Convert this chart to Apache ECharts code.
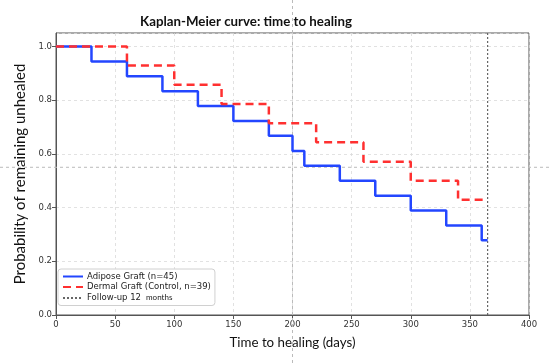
<!DOCTYPE html>
<html>
<head>
<meta charset="utf-8">
<script src="https://cdn.jsdelivr.net/npm/echarts@6/dist/echarts.min.js"></script>
<style>html,body{margin:0;padding:0;background:#fff;}#c{width:550px;height:364px;}</style>
</head>
<body>
<div id="c"></div>
<script>
// Adipose graft: event times (days) and survival after each time
var adiposeTimes = [0, 30, 60, 90, 120, 150, 180, 200, 210, 240, 270, 300, 330, 360, 365];
var adiposeSurv  = [1.0, 0.944, 0.889, 0.833, 0.778, 0.722, 0.667, 0.611, 0.556, 0.5, 0.444, 0.389, 0.333, 0.278, 0.278];
// Dermal graft (control)
var dermalTimes = [0, 60, 100, 140, 180, 220, 260, 300, 340, 365];
var dermalSurv  = [1.0, 0.929, 0.857, 0.786, 0.714, 0.643, 0.571, 0.5, 0.429, 0.429];
// Follow-up line
var followUpDays = 365;
var xTicks = [0, 50, 100, 150, 200, 250, 300, 350, 400];
var yTicks = [0.0, 0.2, 0.4, 0.6, 0.8, 1.0];
var names = ['Adipose Graft (n=45)', 'Dermal Graft (Control, n=39)', 'Follow-up 12 months'];
var guideX = 200, guideY = 0.55;

function zip(a, b) { return a.map(function (v, i) { return [v, b[i]]; }); }

var chart = echarts.init(document.getElementById('c'), null, {renderer: 'canvas'});
var tickFont = {fontFamily: 'DejaVu Sans', fontSize: 8.5, color: '#333'};
chart.setOption({
  animation: false,
  backgroundColor: '#fff',
  title: {
    text: 'Kaplan-Meier curve: time to healing',
    left: 241, top: 10, textAlign: 'center',
    textStyle: {fontFamily: 'Lato', fontWeight: 'bold', fontSize: 13.3, color: '#111'}
  },
  grid: {left: 56, right: 21, top: 33, bottom: 49, show: true, borderColor: '#555', borderWidth: 1},
  xAxis: {
    type: 'value', min: 0, max: 400, interval: 50,
    name: 'Time to healing (days)', nameLocation: 'middle', nameGap: 21,
    nameTextStyle: {fontFamily: 'Lato', fontSize: 13.3, color: '#111'},
    axisLine: {show: true, lineStyle: {color: '#555'}},
    axisTick: {show: true, length: 4, lineStyle: {color: '#555'}},
    axisLabel: Object.assign({margin: 5, formatter: function (v) { return xTicks.indexOf(v) >= 0 ? String(v) : ''; }}, tickFont),
    splitLine: {show: true, lineStyle: {color: '#dadada', type: [3, 3], width: 0.8}}
  },
  yAxis: {
    type: 'value', min: 0, max: 1.05, interval: 0.2,
    name: 'Probability of remaining unhealed', nameLocation: 'middle', nameGap: 27, nameRotate: 90,
    nameTextStyle: {fontFamily: 'Lato', fontSize: 15, color: '#111'},
    axisLine: {show: true, lineStyle: {color: '#555'}},
    axisTick: {show: true, length: 4, lineStyle: {color: '#555'}},
    axisLabel: Object.assign({margin: 4, showMaxLabel: false, formatter: function (v) { return v.toFixed(1); }}, tickFont),
    splitLine: {show: true, lineStyle: {color: '#dadada', type: [3, 3], width: 0.8}}
  },
  legend: {
    orient: 'vertical', left: 58, top: 269,
    data: names,
    backgroundColor: '#fff', borderColor: '#d0d0d0', borderWidth: 1, borderRadius: 3,
    padding: [3, 4, 3, 4], itemGap: 1.5, itemWidth: 20, itemHeight: 10,
    itemStyle: {opacity: 0},
    textStyle: {fontFamily: 'DejaVu Sans', fontSize: 8.5, color: '#222', padding: [0, 0, 0, -1],
      rich: {m: {fontFamily: 'Lato', fontSize: 8, color: '#222', padding: [0, 0, 2, 5]}}},
    formatter: function (n) { return n === names[2] ? 'Follow-up 12{m|months}' : n; }
  },
  series: [
    {name: names[0], type: 'line', step: 'end', symbol: 'none', data: zip(adiposeTimes, adiposeSurv),
      lineStyle: {color: '#2346ff', width: 2.5}, itemStyle: {color: '#2346ff'}, z: 3},
    {name: names[1], type: 'line', step: 'end', symbol: 'none', data: zip(dermalTimes, dermalSurv),
      lineStyle: {color: '#ff3030', width: 2.5, type: [8, 5]}, itemStyle: {color: '#ff3030'}, z: 4},
    {name: names[2], type: 'line', symbol: 'none', data: [[followUpDays, 0], [followUpDays, 1.05]],
      lineStyle: {color: '#666', width: 1.2, type: [2, 2]}, itemStyle: {color: '#999'}, z: 2}
  ]
});
var px = chart.convertToPixel({gridIndex: 0}, [guideX, guideY]);
chart.setOption({
  graphic: [
    {type: 'line', shape: {x1: px[0], y1: 0, x2: px[0], y2: 364}, style: {stroke: '#bbb', lineWidth: 1, lineDash: [3, 3]}, z: 1, silent: true},
    {type: 'line', shape: {x1: 0, y1: px[1], x2: 550, y2: px[1]}, style: {stroke: '#bbb', lineWidth: 1, lineDash: [3, 3]}, z: 1, silent: true}
  ]
});
</script>
</body>
</html>
